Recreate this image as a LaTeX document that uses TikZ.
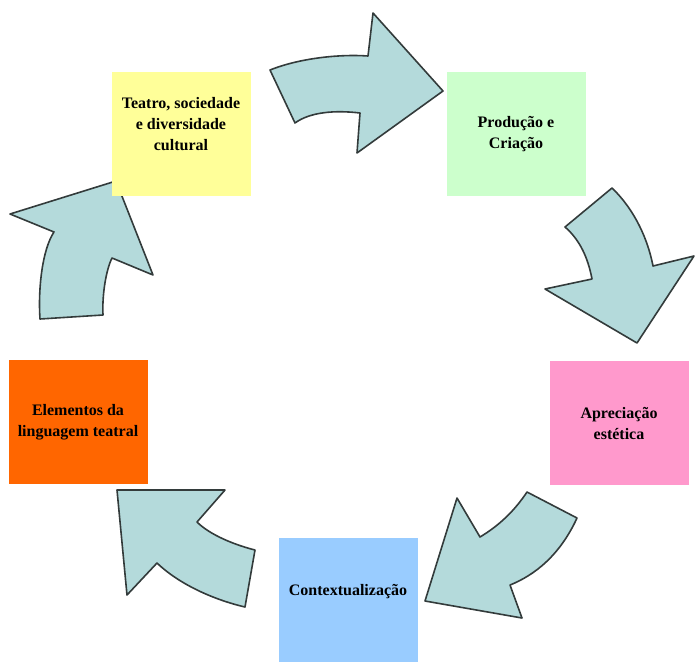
\documentclass[tikz,border=0pt]{standalone}
\usepackage{fontspec}
\setmainfont{Liberation Serif}
\usepackage{xcolor}
\usepackage{tikz}
\definecolor{cycleyellow}{HTML}{FFFF99}
\definecolor{cyclegreen}{HTML}{CCFFCC}
\definecolor{cyclepink}{HTML}{FF99CC}
\definecolor{cycleblue}{HTML}{99CCFF}
\definecolor{cycleorange}{HTML}{FF6600}
\definecolor{arrowfill}{HTML}{B4DADB}
\definecolor{arrowline}{HTML}{333B3B}

\begin{document}
\begin{tikzpicture}[
  x=1pt, y=-1pt,
  font=\fontsize{16}{21}\selectfont\bfseries,
  stagebox/.style={draw=none, align=center, inner sep=2pt,
               minimum width=139pt, minimum height=124pt},
  bigarrow/.style={fill=arrowfill, draw=arrowline, line width=1.6pt, line join=round}
]
\useasboundingbox (0,0) rectangle (695,664);
% curved arrows between the stages
\draw[bigarrow] (270,70) .. controls (300,58) and (340,54) .. (368,56) -- (373,13) -- (443,91)
  -- (357,153) -- (360,113) .. controls (335,110) and (310,112) .. (295,123) -- cycle;
\draw[bigarrow] (565,227) -- (612,188) .. controls (635,210) and (648,240) .. (653,266)
  -- (694,256) -- (637,343) -- (545,289) -- (592,279) .. controls (588,258) and (580,240) .. cycle;
\draw[bigarrow] (527,492) -- (577,518) .. controls (560,555) and (535,575) .. (510,585)
  -- (522,618) -- (425,601) -- (457,498) -- (480,537) .. controls (500,525) and (515,510) .. cycle;
\draw[bigarrow] (117,490) -- (225,490) -- (197,522) .. controls (210,535) and (235,545) .. (255,550)
  -- (245,607) .. controls (215,600) and (180,585) .. (157,563) -- (127,595) -- cycle;
\draw[bigarrow] (10,214) -- (116,181) -- (153,275) -- (112,258) .. controls (106,270) and (102,295) .. (103,315)
  -- (40,319) .. controls (38,290) and (42,250) .. (54,232) -- cycle;
% stages
\node[stagebox, fill=cycleyellow] (teatro) at (181,134) {Teatro, sociedade\\e diversidade\\cultural\\\mbox{}};
\node[stagebox, fill=cyclegreen] (producao) at (516,134) {Produção e\\Criação};
\node[stagebox, fill=cyclepink] (apreciacao) at (619,423) {Apreciação\\estética};
\node[stagebox, fill=cycleblue] (contexto) at (348,600) {Contextualização\\\mbox{}};
\node[stagebox, fill=cycleorange] (elementos) at (78,422) {Elementos da\\linguagem teatral};
\end{tikzpicture}
\end{document}
